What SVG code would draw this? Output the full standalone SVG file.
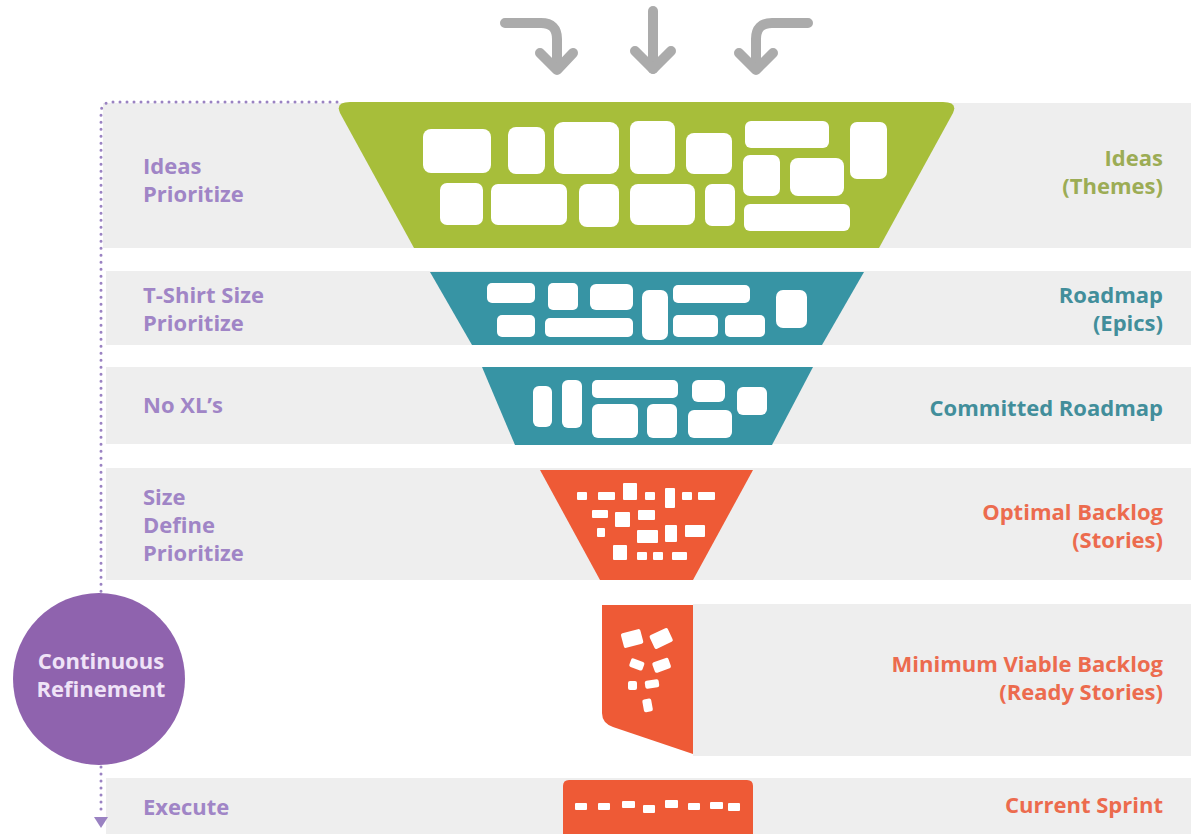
<svg xmlns="http://www.w3.org/2000/svg" width="1191" height="834" viewBox="0 0 1191 834">
<defs>
<style>
.band{fill:#eeeeee}
.card{fill:#ffffff}
.lbl{font-family:"Open Sans","Liberation Sans",sans-serif;font-weight:700;font-size:22px}
.left{fill:#a085c6}
.green{fill:#9cac55}
.teal{fill:#428e9b}
.red{fill:#ec6b4e}
.rlbl{text-anchor:end}
.arrow{fill:none;stroke:#ababab;stroke-width:10;stroke-linecap:round;stroke-linejoin:round}
.dots{fill:none;stroke:#9a82c2;stroke-width:3;stroke-linecap:round;stroke-dasharray:0 7}
</style>
</defs>
<rect width="1191" height="834" fill="#ffffff"/>
<g id="bands">
<rect class="band" x="103" y="103" width="1088" height="145"/>
<rect class="band" x="106" y="271" width="1085" height="74"/>
<rect class="band" x="106" y="367" width="1085" height="77"/>
<rect class="band" x="106" y="468" width="1085" height="112"/>
<rect class="band" x="693" y="604" width="498" height="152"/>
<rect class="band" x="106" y="778" width="1085" height="56"/>
</g>
<g id="connectors">
<path class="arrow" d="M505 23 H541 Q557 23 557 39 V69"/>
<path class="arrow" d="M540 53 L557 70 L573 53"/>
<path class="arrow" d="M653 11 V69"/>
<path class="arrow" d="M635 51 L653 69 L671 51"/>
<path class="arrow" d="M808 23 H772 Q756 23 756 39 V69"/>
<path class="arrow" d="M739 53 L756 70 L773 53"/>
<path class="dots" d="M337 102 H112 Q101 102 101 113 V592"/>
<path class="dots" d="M101 767 V816"/>
<polygon points="94,817 108,817 101,828" fill="#9a82c2"/>
</g>
<g id="ideas">
<path d="M350 102 H943 Q958 102 953 113 L879 248 H414 L340 113 Q335 102 350 102 Z" fill="#a7be3a"/>
<rect class="card" x="423" y="129" width="68" height="44" rx="8"/>
<rect class="card" x="508" y="127" width="37" height="47" rx="8"/>
<rect class="card" x="554" y="122" width="65" height="52" rx="9"/>
<rect class="card" x="630" y="121" width="45" height="53" rx="8"/>
<rect class="card" x="686" y="133" width="46" height="41" rx="8"/>
<rect class="card" x="745" y="121" width="84" height="27" rx="6"/>
<rect class="card" x="850" y="122" width="37" height="57" rx="7"/>
<rect class="card" x="440" y="183" width="43" height="42" rx="7"/>
<rect class="card" x="491" y="184" width="76" height="41" rx="7"/>
<rect class="card" x="579" y="184" width="40" height="43" rx="8"/>
<rect class="card" x="630" y="184" width="65" height="41" rx="8"/>
<rect class="card" x="705" y="184" width="30" height="42" rx="7"/>
<rect class="card" x="743" y="155" width="37" height="41" rx="7"/>
<rect class="card" x="790" y="158" width="54" height="38" rx="8"/>
<rect class="card" x="744" y="204" width="106" height="27" rx="6"/>
</g>
<g id="roadmap">
<path d="M430 272 H864 L822 345 H472 Z" fill="#3794a4"/>
<rect class="card" x="487" y="283" width="48" height="20" rx="5"/>
<rect class="card" x="548" y="283" width="30" height="27" rx="5"/>
<rect class="card" x="590" y="284" width="43" height="26" rx="6"/>
<rect class="card" x="642" y="290" width="26" height="50" rx="7"/>
<rect class="card" x="673" y="285" width="77" height="18" rx="5"/>
<rect class="card" x="776" y="290" width="31" height="38" rx="7"/>
<rect class="card" x="497" y="315" width="38" height="22" rx="5"/>
<rect class="card" x="545" y="318" width="88" height="19" rx="5"/>
<rect class="card" x="673" y="315" width="45" height="22" rx="5"/>
<rect class="card" x="725" y="315" width="40" height="22" rx="5"/>
</g>
<g id="committed">
<path d="M482 367 H813 L772 445 H515 Z" fill="#3794a4"/>
<rect class="card" x="533" y="386" width="19" height="41" rx="6"/>
<rect class="card" x="562" y="380" width="20" height="48" rx="6"/>
<rect class="card" x="592" y="380" width="86" height="18" rx="5"/>
<rect class="card" x="592" y="404" width="46" height="34" rx="6"/>
<rect class="card" x="647" y="404" width="30" height="34" rx="6"/>
<rect class="card" x="692" y="380" width="33" height="22" rx="6"/>
<rect class="card" x="688" y="410" width="44" height="28" rx="6"/>
<rect class="card" x="737" y="387" width="30" height="28" rx="6"/>
</g>
<g id="optimal">
<path d="M540 470 H753 L693 580 H600 Z" fill="#ee5a36"/>
<rect class="card" x="577" y="492" width="10" height="8" rx="1"/>
<rect class="card" x="598" y="492" width="17" height="8" rx="1"/>
<rect class="card" x="623" y="483" width="14" height="17" rx="1"/>
<rect class="card" x="645" y="492" width="10" height="8" rx="1"/>
<rect class="card" x="665" y="488" width="10" height="20" rx="1"/>
<rect class="card" x="682" y="492" width="10" height="8" rx="1"/>
<rect class="card" x="698" y="492" width="17" height="8" rx="1"/>
<rect class="card" x="592" y="510" width="16" height="8" rx="1"/>
<rect class="card" x="615" y="512" width="15" height="15" rx="1"/>
<rect class="card" x="638" y="510" width="17" height="10" rx="1"/>
<rect class="card" x="597" y="528" width="8" height="9" rx="1"/>
<rect class="card" x="637" y="530" width="21" height="13" rx="1"/>
<rect class="card" x="665" y="525" width="12" height="17" rx="1"/>
<rect class="card" x="685" y="525" width="20" height="12" rx="1"/>
<rect class="card" x="613" y="545" width="14" height="15" rx="1"/>
<rect class="card" x="637" y="552" width="10" height="8" rx="1"/>
<rect class="card" x="653" y="552" width="10" height="8" rx="1"/>
<rect class="card" x="672" y="552" width="15" height="8" rx="1"/>
</g>
<g id="mvb">
<path d="M602 605 H693 V754 L613 727 Q602 723 602 713 Z" fill="#ee5a36"/>
<rect class="card" x="622" y="631" width="20" height="15" rx="2" transform="rotate(-15 632 638)"/>
<rect class="card" x="651" y="631" width="20" height="15" rx="2" transform="rotate(-25 661 638)"/>
<rect class="card" x="630" y="660" width="14" height="9" rx="2" transform="rotate(20 637 664)"/>
<rect class="card" x="653" y="660" width="17" height="11" rx="2" transform="rotate(-20 661 665)"/>
<rect class="card" x="628" y="681" width="9" height="9" rx="2"/>
<rect class="card" x="645" y="680" width="14" height="8" rx="2" transform="rotate(-8 652 684)"/>
<rect class="card" x="643" y="699" width="9" height="13" rx="2" transform="rotate(-10 647 705)"/>
</g>
<g id="sprint">
<path d="M569 780 H747 Q753 780 753 786 V834 H563 V786 Q563 780 569 780 Z" fill="#ee5a36"/>
<rect class="card" x="575" y="803" width="12" height="7" rx="1"/>
<rect class="card" x="598" y="803" width="12" height="7" rx="1"/>
<rect class="card" x="622" y="801" width="13" height="7" rx="1"/>
<rect class="card" x="643" y="805" width="12" height="8" rx="1"/>
<rect class="card" x="665" y="800" width="13" height="8" rx="1"/>
<rect class="card" x="688" y="803" width="12" height="7" rx="1"/>
<rect class="card" x="710" y="802" width="13" height="7" rx="1"/>
<rect class="card" x="728" y="803" width="12" height="8" rx="1"/>
</g>
<g id="refinement">
<circle cx="99" cy="679" r="86" fill="#8f63ae"/>
<text class="lbl" x="101" y="669" text-anchor="middle" fill="#efe3f7" font-size="20">Continuous</text>
<text class="lbl" x="101" y="697" text-anchor="middle" fill="#efe3f7" font-size="20">Refinement</text>
</g>
<g id="left-labels">
<text class="lbl left" x="143" y="174">Ideas</text>
<text class="lbl left" x="143" y="202">Prioritize</text>
<text class="lbl left" x="143" y="303">T-Shirt Size</text>
<text class="lbl left" x="143" y="331">Prioritize</text>
<text class="lbl left" x="143" y="413">No XL’s</text>
<text class="lbl left" x="143" y="505">Size</text>
<text class="lbl left" x="143" y="533">Define</text>
<text class="lbl left" x="143" y="561">Prioritize</text>
<text class="lbl left" x="143" y="815">Execute</text>
</g>
<g id="right-labels">
<text class="lbl rlbl green" x="1163" y="166">Ideas</text>
<text class="lbl rlbl green" x="1163" y="194">(Themes)</text>
<text class="lbl rlbl teal" x="1163" y="303">Roadmap</text>
<text class="lbl rlbl teal" x="1163" y="331">(Epics)</text>
<text class="lbl rlbl teal" x="1163" y="416">Committed Roadmap</text>
<text class="lbl rlbl red" x="1163" y="520">Optimal Backlog</text>
<text class="lbl rlbl red" x="1163" y="548">(Stories)</text>
<text class="lbl rlbl red" x="1163" y="672">Minimum Viable Backlog</text>
<text class="lbl rlbl red" x="1163" y="700">(Ready Stories)</text>
<text class="lbl rlbl red" x="1163" y="813">Current Sprint</text>
</g>
</svg>
